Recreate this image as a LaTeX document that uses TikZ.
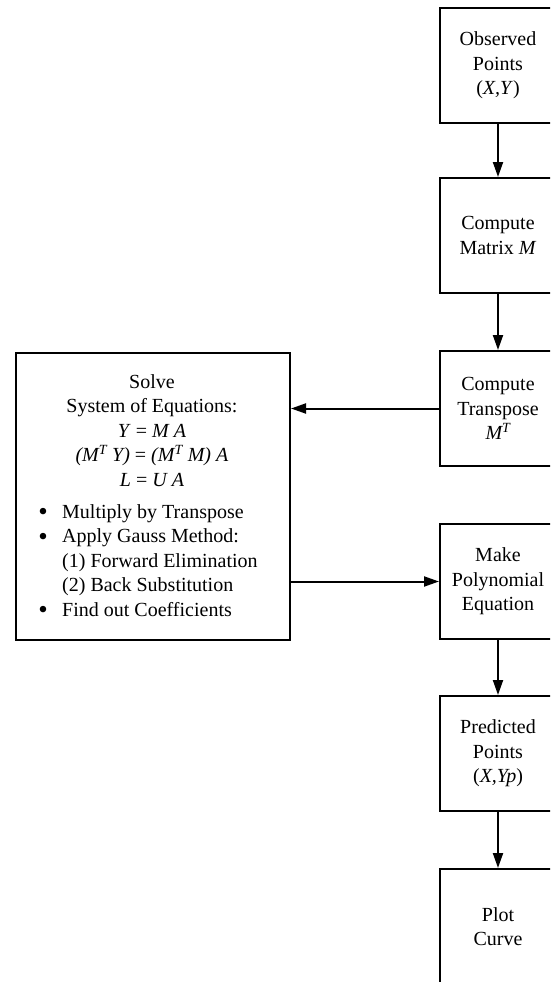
\documentclass[tikz,border=0pt]{standalone}
\usepackage{fontspec}
\setmainfont{Liberation Serif}
\usetikzlibrary{arrows.meta}
\newcommand{\bul}{\makebox[14pt]{\raisebox{-2.6pt}{\scalebox{1.35}{\textbullet}}}}
\begin{document}
\begin{tikzpicture}[x=1pt,y=-1pt,
  every node/.style={font=\fontsize{20}{24.5}\selectfont},
  stepbox/.style={draw,line width=2pt,minimum width=116pt,minimum height=115pt,anchor=north west,align=center,inner sep=0pt},
  flow/.style={line width=2pt,-{Triangle[length=15pt,width=10pt]}}]
\useasboundingbox (0,0) rectangle (550,982);
\clip (0,0) rectangle (550,982);
\node[stepbox] (obs) at (439,7) {Observed\\Points\\(\textit{X,Y})};
\node[stepbox] (mat) at (439,177) {Compute\\Matrix \textit{M}};
\node[stepbox] (trans) at (439,350) {Compute\\Transpose\\\textit{M\textsuperscript{T}}};
\node[stepbox] (poly) at (439,523) {Make\\Polynomial\\Equation};
\node[stepbox] (pred) at (439,695) {Predicted\\Points\\(\textit{X,Yp})};
\node[stepbox] (plot) at (439,868) {Plot\\Curve};
\node[draw,line width=2pt,minimum width=274pt,minimum height=287pt,anchor=north west,inner sep=0pt] (solve) at (15,352) {};
\node[anchor=north,align=center,inner sep=0pt] (solvehead) at (152,374)
  {Solve\\System of Equations:\\\textit{Y} = \textit{M A}\\\textit{(M\textsuperscript{T} Y)} = \textit{(M\textsuperscript{T} M) A}\\\textit{L} = \textit{U A}};
\node[anchor=north west,inner sep=0pt] (solvelist) at (36,501)
  {\begin{tabular}{@{}c@{\hspace{12pt}}l@{}}
  \bul & Multiply by Transpose\\
  \bul & Apply Gauss Method:\\
   & (1) Forward Elimination\\
   & (2) Back Substitution\\
  \bul & Find out Coefficients
  \end{tabular}};
\draw[flow] (obs) -- (mat);
\draw[flow] (mat) -- (trans);
\draw[flow] (trans.west) -- (trans.west -| solve.east);
\draw[flow] (solve.east |- poly.west) -- (poly.west);
\draw[flow] (poly) -- (pred);
\draw[flow] (pred) -- (plot);
\end{tikzpicture}
\end{document}
